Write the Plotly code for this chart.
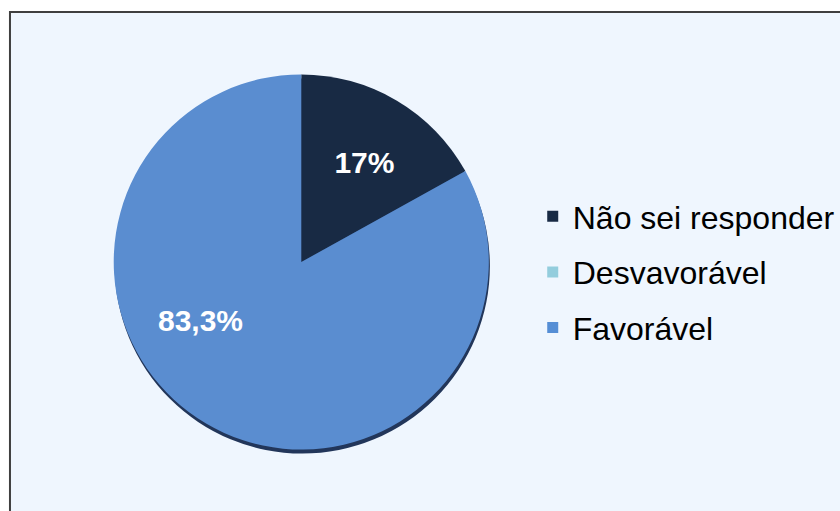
import plotly.graph_objects as go

categories = ["Não sei responder", "Desvavorável", "Favorável"]
values = [17, 0, 83.3]
pct_labels = ["17%", "", "83,3%"]
slice_colors = ["#182A44", "#93CDDD", "#5A8DD0"]
legend_colors = ["#182A44", "#93CDDD", "#558ED5"]

W, H = 840, 511
cx, cy, r = 302, 262, 188

# invisible padding so Plotly's automatic inside-label lands where the original sits
clear = "<span style='color:rgba(0,0,0,0)'>{}</span>"
label_pre = ["<span style='font-size:3px'> </span><br>", "",
             "<span style='font-size:9px'> </span><br>"]
label_post = ["", "", clear.format("_" * 12)]
label_text = [f"{a}<b>{t}</b>{b}" if t else ""
              for t, a, b in zip(pct_labels, label_pre, label_post)]

fig = go.Figure()

# soft shadow under the pie
fig.add_trace(go.Pie(
    values=[1], labels=["shadow"], sort=False,
    marker=dict(colors=["#22365A"], line=dict(width=0)),
    textinfo="none", hoverinfo="skip", showlegend=False,
    domain=dict(x=[(cx - r + 1) / W, (cx + r + 1) / W],
                y=[(H - cy - r - 4) / H, (H - cy + r - 4) / H]),
))

fig.add_trace(go.Pie(
    values=values, labels=categories, text=label_text,
    sort=False, direction="clockwise", rotation=0,
    marker=dict(colors=slice_colors, line=dict(width=0)),
    textinfo="text", texttemplate="%{text}",
    textposition="inside", insidetextorientation="horizontal",
    insidetextfont=dict(family="Liberation Sans", size=30, color="white"),
    showlegend=False,
    domain=dict(x=[(cx - r) / W, (cx + r) / W],
                y=[(H - cy - r) / H, (H - cy + r) / H]),
))

for i, (name, col) in enumerate(zip(categories, legend_colors)):
    fig.add_trace(go.Scatter(
        x=[None], y=[None], mode="markers", name=name,
        marker=dict(symbol="square", size=11, color=col),
        legendgroup=f"g{i}", showlegend=True,
    ))

fig.update_layout(
    width=W, height=H,
    margin=dict(l=0, r=0, t=0, b=0),
    paper_bgcolor="white", plot_bgcolor="rgba(0,0,0,0)",
    xaxis=dict(visible=False), yaxis=dict(visible=False),
    font=dict(family="Liberation Sans", color="black"),
    legend=dict(
        x=(554 - 20) / W, xanchor="left",
        y=1 - 272 / H, yanchor="middle",
        font=dict(size=32, family="Liberation Sans", color="black"),
        tracegroupgap=11, bgcolor="rgba(0,0,0,0)",
        itemclick=False,
    ),
    shapes=[dict(
        type="rect", xref="paper", yref="paper", layer="below",
        x0=10 / W, x1=1.05, y0=-0.05, y1=1 - 12 / H,
        fillcolor="#EFF6FE", line=dict(color="#3F3F3F", width=2),
    )],
)

fig.write_html("out.html")
